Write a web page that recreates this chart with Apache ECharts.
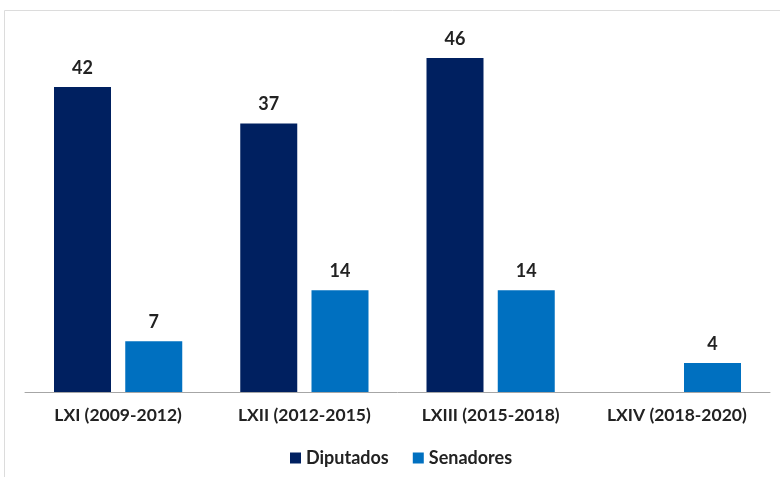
<!DOCTYPE html>
<html><head><meta charset="utf-8">
<script src="https://cdn.jsdelivr.net/npm/echarts@6/dist/echarts.min.js"></script>
<style>html,body{margin:0;padding:0;background:#fff}#c{width:780px;height:477px}</style>
</head><body><div id="c"></div>
<script>
var categories = ['LXI (2009-2012)', 'LXII (2012-2015)', 'LXIII (2015-2018)', 'LXIV (2018-2020)'];
var diputados = [42, 37, 46, null];
var senadores = [7, 14, 14, 4];
var seriesNames = ['Diputados', 'Senadores'];

var chart = echarts.init(document.getElementById('c'), null, {renderer: 'canvas'});
var font = 'Lato, "Open Sans", sans-serif';
chart.setOption({
  animation: false,
  backgroundColor: '#fff',
  graphic: [{
    type: 'rect', shape: {x: 4.5, y: 10.5, width: 800, height: 500},
    style: {fill: 'none', stroke: '#dcdcdc', lineWidth: 1}, silent: true, z: -1
  }],
  grid: {left: 25, right: 10, top: 29, bottom: 85},
  legend: {
    data: seriesNames, bottom: 10, left: 290, padding: 0,
    itemWidth: 11, itemHeight: 11, itemGap: 24, icon: 'rect',
    textStyle: {fontFamily: font, fontSize: 18, color: '#222', fontWeight: 'bold'}
  },
  xAxis: {
    type: 'category', data: categories,
    axisLine: {lineStyle: {color: '#a6a6a6', width: 1}},
    axisTick: {show: false},
    axisLabel: {fontFamily: font, fontSize: 17.5, fontWeight: 'bold', color: '#222', margin: 14}
  },
  yAxis: {type: 'value', min: 0, max: 50, show: false, splitLine: {show: false}},
  series: [
    {name: seriesNames[0], type: 'bar', data: diputados, barWidth: 57, barGap: '25%',
     itemStyle: {color: '#002060'},
     label: {show: true, position: 'top', distance: 10, fontFamily: font, fontSize: 18, fontWeight: 'bold', color: '#222'}},
    {name: seriesNames[1], type: 'bar', data: senadores, barWidth: 57,
     itemStyle: {color: '#0070C0'},
     label: {show: true, position: 'top', distance: 10, fontFamily: font, fontSize: 18, fontWeight: 'bold', color: '#222'}}
  ]
});
</script></body></html>
